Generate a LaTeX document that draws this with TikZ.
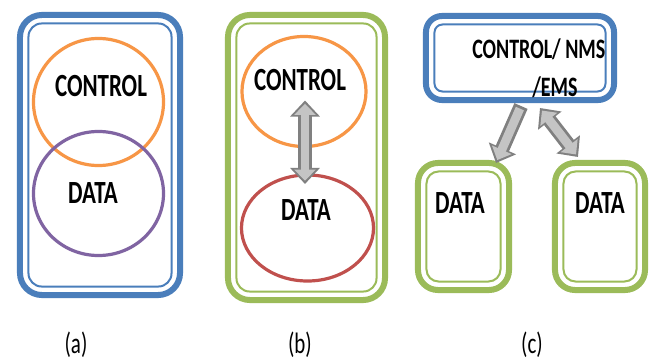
\documentclass[tikz,border=0pt]{standalone}
\usepackage{fontspec}
\newfontfamily\lblfont[FakeStretch=0.71]{Carlito}
\usetikzlibrary{shapes,shapes.geometric,arrows.meta,calc}

\definecolor{boxblue}{RGB}{74,126,187}
\definecolor{boxgreen}{RGB}{155,187,89}
\definecolor{ctlorange}{RGB}{247,150,70}
\definecolor{datapurple}{RGB}{128,100,162}
\definecolor{datared}{RGB}{192,80,77}
\definecolor{arrowedge}{RGB}{128,128,128}
\definecolor{arrowfill}{RGB}{196,196,196}

\begin{document}
\begin{tikzpicture}[x=0.025cm, y=-0.025cm,
    every node/.style={font=\lblfont\bfseries\fontsize{23}{27.6}\selectfont, inner sep=0pt},
    frame/.style={draw=#1, line width=0.15cm, rounded corners=0.55cm, outer sep=0pt},
    inframe/.style={draw=#1, line width=0.05cm, rounded corners=0.33cm},
    plane/.style={ellipse, draw=#1, line width=0.08cm, outer sep=0pt},
    fat/.style={draw=arrowedge, line width=0.36cm, -{Triangle[length=0.4cm,width=0.72cm]},
        postaction={draw=arrowfill, line width=0.22cm, -{Triangle[length=0.28cm,width=0.52cm]}, shorten <=0.07cm, shorten >=0.08cm}},
    fatboth/.style={draw=arrowedge, line width=0.36cm, {Triangle[length=0.4cm,width=0.72cm]}-{Triangle[length=0.4cm,width=0.72cm]},
        postaction={draw=arrowfill, line width=0.22cm, {Triangle[length=0.28cm,width=0.52cm]}-{Triangle[length=0.28cm,width=0.52cm]}, shorten <=0.08cm, shorten >=0.08cm}},
    sublbl/.style={font=\lblfont\fontsize{21}{25}\selectfont}]

  \fill[white] (0,0) rectangle (654,361);
  \useasboundingbox (0,0) rectangle (654,361);

  % (a) control and data in one box
  \node[frame=boxblue, minimum width=4cm, minimum height=7cm] (boxA) at (100,155) {};
  \draw[inframe=boxblue] ($(boxA.south west)+(8.5,-8.5)$) rectangle ($(boxA.north east)+(-8.5,8.5)$);
  \node[plane=ctlorange, minimum width=3.25cm, minimum height=3.175cm] (ctlA) at (98.5,102) {};
  \node[plane=datapurple, minimum width=3.25cm, minimum height=3.1cm] (dataA) at (98.5,193.5) {};
  \node (ctlAtxt) at (101,86) {CONTROL};
  \node (dataAtxt) at (93,193) {DATA};
  \node[sublbl] (subA) at (76,345) {(a)};

  % (b) separated planes
  \node[frame=boxgreen, minimum width=3.925cm, minimum height=7.125cm] (boxB) at (306.5,157.5) {};
  \draw[inframe=boxgreen] ($(boxB.south west)+(8.5,-8.5)$) rectangle ($(boxB.north east)+(-8.5,8.5)$);
  \node[plane=ctlorange, minimum width=3.1cm, minimum height=2.75cm] (ctlB) at (304,91.5) {};
  \node[plane=datared, minimum width=3.3cm, minimum height=2.65cm] (dataB) at (307.5,228) {};
  \node (ctlBtxt) at (300,80) {CONTROL};
  \node (dataBtxt) at (306,210) {DATA};
  \draw[fatboth] ($(ctlB.center)+(1,9)$) -- ($(dataB.north)+(-2.5,9)$);
  \node[sublbl] (subB) at (300,345) {(b)};

  % (c) central control
  \node[frame=boxblue, rounded corners=0.4cm, minimum width=4.7cm, minimum height=2.1cm] (ctlC) at (520,58) {};
  \draw[inframe=boxblue, rounded corners=0.2cm] ($(ctlC.south west)+(8.5,-8.5)$) rectangle ($(ctlC.north east)+(-8.5,8.5)$);
  \node[frame=boxgreen, rounded corners=0.5cm, minimum width=2.275cm, minimum height=3.175cm] (dataC1) at (463.5,226.5) {};
  \draw[inframe=boxgreen, rounded corners=0.3cm] ($(dataC1.south west)+(8.5,-8.5)$) rectangle ($(dataC1.north east)+(-8.5,8.5)$);
  \node[frame=boxgreen, rounded corners=0.5cm, minimum width=2.25cm, minimum height=3.175cm] (dataC2) at (600,226.5) {};
  \draw[inframe=boxgreen, rounded corners=0.3cm] ($(dataC2.south west)+(8.5,-8.5)$) rectangle ($(dataC2.north east)+(-8.5,8.5)$);
  \node[font=\lblfont\bfseries\fontsize{20}{27.6}\selectfont, align=left, anchor=north west] (ctlCtxt) at (472,38) {CONTROL/ NMS\\\hspace*{1.5cm}/EMS};
  \node (dataC1txt) at (460,203) {DATA};
  \node (dataC2txt) at (600,203) {DATA};
  \draw[fat] ($(ctlC.south)+(1,6)$) -- ($(dataC1.north east)+(-13,0)$);
  \draw[fatboth] ($(ctlC.south)+(20,8)$) -- ($(dataC2.north west)+(23,-6)$);
  \node[sublbl] (subC) at (532,345) {(c)};
\end{tikzpicture}
\end{document}
